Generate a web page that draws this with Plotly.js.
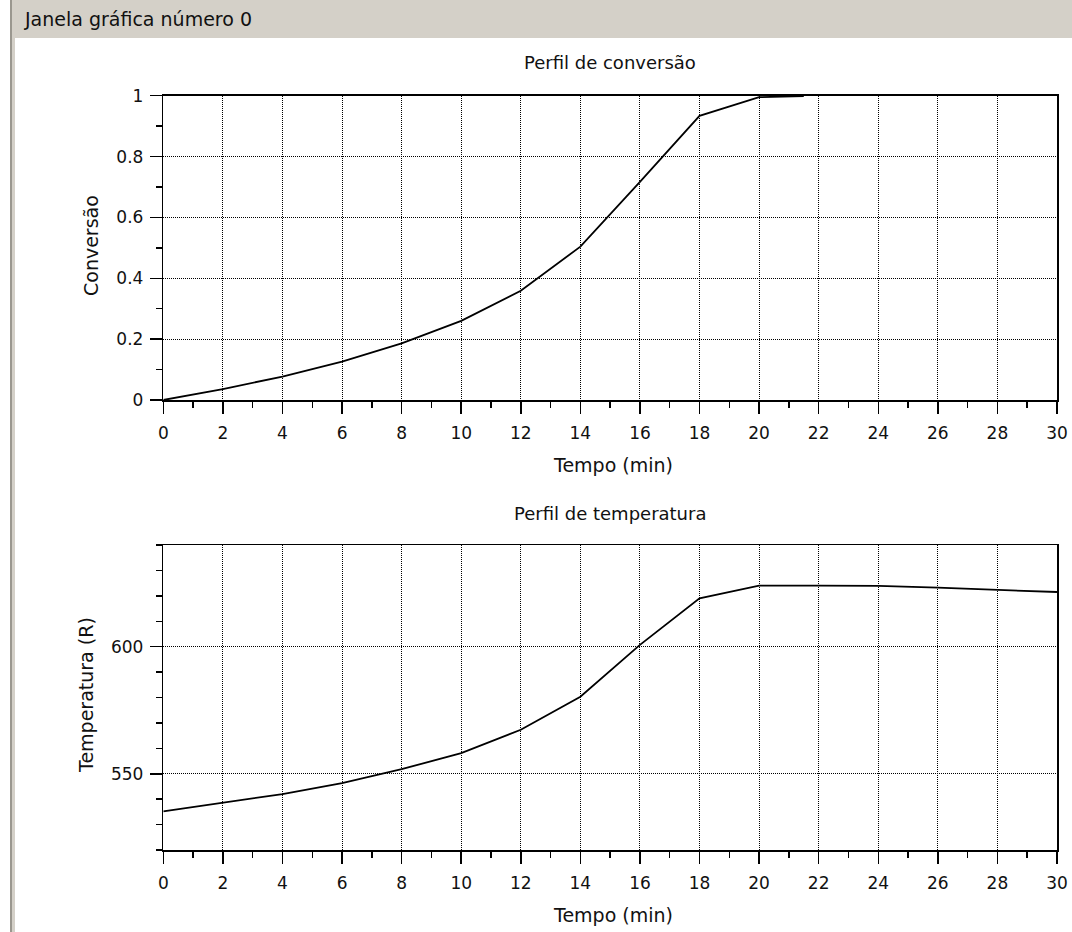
<!DOCTYPE html>
<html>
<head>
<meta charset="utf-8">
<script src="https://cdn.plot.ly/plotly-3.0.1.min.js"></script>
<style>
html,body{margin:0;padding:0;background:#fff;}
#chart{width:1072px;height:932px;}
</style>
</head>
<body>
<div id="chart"></div>
<script>
// ---- data ----
const windowTitle = "Janela gráfica número 0";
const convTitle = "Perfil de conversão";
const tempTitle = "Perfil de temperatura";
const xLabel = "Tempo (min)";
const convLabel = "Conversão";
const tempLabel = "Temperatura (R)";

const convTime = [0, 2, 4, 6, 8, 10, 12, 14, 16, 18, 20, 21.5];
const convValues = [0, 0.036, 0.077, 0.126, 0.186, 0.260, 0.359, 0.504, 0.717, 0.934, 0.995, 0.999];

const tempTime = [0, 2, 4, 6, 8, 10, 12, 14, 16, 18, 20, 22, 24, 26, 28, 30];
const tempValues = [535.2, 538.5, 542.0, 546.3, 551.8, 558.1, 567.3, 580.3, 600.7, 619.0, 624.0, 624.0, 623.9, 623.2, 622.4, 621.5];

const convTicks = [0, 0.2, 0.4, 0.6, 0.8, 1];
const convTickText = ["0", "0.2", "0.4", "0.6", "0.8", "1"];
const timeTicks = [0, 2, 4, 6, 8, 10, 12, 14, 16, 18, 20, 22, 24, 26, 28, 30];
const tempTicks = [550, 600];

// ---- layout helpers (pixel -> paper) ----
const W = 1072, H = 932;
const px = x => x / W;
const py = y => 1 - y / H;

const FONT = "DejaVu Sans, Liberation Sans, sans-serif";
const gridStyle = {showgrid: true, gridcolor: "#000", gridwidth: 1, griddash: "1px,1px"};
const lineStyle = {showline: true, linecolor: "#000", linewidth: 1.5, mirror: true, zeroline: false,
  ticks: "outside", tickcolor: "#000", tickwidth: 1.5, ticklen: 12,
  tickfont: {family: FONT, size: 17, color: "#111"}};

const xBase = Object.assign({}, gridStyle, lineStyle, {
  range: [0, 30], tickmode: "array", tickvals: timeTicks, ticktext: timeTicks.map(String),
  domain: [px(163.3), px(1057)], ticklabelstandoff: 5,
  minor: {dtick: 1, tick0: 0, ticks: "outside", ticklen: 6, tickcolor: "#000", tickwidth: 1.5, showgrid: false}
});

const traces = [
  {x: convTime, y: convValues, xaxis: "x", yaxis: "y", mode: "lines",
   line: {color: "#000", width: 1.8}, hoverinfo: "skip"},
  {x: tempTime, y: tempValues, xaxis: "x2", yaxis: "y2", mode: "lines",
   line: {color: "#000", width: 1.8}, hoverinfo: "skip"}
];

const layout = {
  width: W, height: H, margin: {l: 0, r: 0, t: 0, b: 0},
  paper_bgcolor: "#fff", plot_bgcolor: "#fff", showlegend: false,
  xaxis: Object.assign({}, xBase, {anchor: "y"}),
  yaxis: Object.assign({}, gridStyle, lineStyle, {
    anchor: "x", range: [0, 1], domain: [py(400), py(95.7)],
    tickmode: "array", tickvals: convTicks, ticktext: convTickText, ticklabelstandoff: 3,
    minor: {dtick: 0.1, tick0: 0, ticks: "outside", ticklen: 6, tickcolor: "#000", tickwidth: 1.5, showgrid: false}
  }),
  xaxis2: Object.assign({}, xBase, {anchor: "y2"}),
  yaxis2: Object.assign({}, gridStyle, lineStyle, {
    anchor: "x2", range: [520, 640], domain: [py(850), py(545)],
    tickmode: "array", tickvals: tempTicks, ticktext: tempTicks.map(String), ticklabelstandoff: 3,
    minor: {dtick: 10, tick0: 520, ticks: "outside", ticklen: 6, tickcolor: "#000", tickwidth: 1.5, showgrid: false}
  }),
  shapes: [
    {type: "rect", xref: "paper", yref: "paper", x0: px(15), x1: 1, y0: py(38), y1: 1,
     fillcolor: "#D4D0C8", line: {width: 0}, layer: "below"},
    {type: "rect", xref: "paper", yref: "paper", x0: px(10), x1: px(12), y0: 0, y1: 1,
     fillcolor: "#9A978F", line: {width: 0}, layer: "below"},
    {type: "rect", xref: "paper", yref: "paper", x0: px(12), x1: px(15), y0: 0, y1: 1,
     fillcolor: "#D4D0C8", line: {width: 0}, layer: "below"}
  ],
  annotations: [
    {text: windowTitle, xref: "paper", yref: "paper", x: px(22), y: py(19), xanchor: "left", yanchor: "middle",
     showarrow: false, font: {family: FONT, size: 19, color: "#111"}},
    {text: convTitle, xref: "paper", yref: "paper", x: px(610), y: py(62), xanchor: "center", yanchor: "middle",
     showarrow: false, font: {family: FONT, size: 18, color: "#111"}},
    {text: tempTitle, xref: "paper", yref: "paper", x: px(610), y: py(513), xanchor: "center", yanchor: "middle",
     showarrow: false, font: {family: FONT, size: 18, color: "#111"}},
    {text: xLabel, xref: "paper", yref: "paper", x: px(613), y: py(465), xanchor: "center", yanchor: "middle",
     showarrow: false, font: {family: FONT, size: 19, color: "#111"}},
    {text: xLabel, xref: "paper", yref: "paper", x: px(613), y: py(915), xanchor: "center", yanchor: "middle",
     showarrow: false, font: {family: FONT, size: 19, color: "#111"}},
    {text: convLabel, xref: "paper", yref: "paper", x: px(91), y: py(246), xanchor: "center", yanchor: "middle",
     textangle: -90, showarrow: false, font: {family: FONT, size: 19, color: "#111"}},
    {text: tempLabel, xref: "paper", yref: "paper", x: px(86), y: py(695), xanchor: "center", yanchor: "middle",
     textangle: -90, showarrow: false, font: {family: FONT, size: 19, color: "#111"}}
  ]
};

Plotly.newPlot("chart", traces, layout, {staticPlot: true, displayModeBar: false});
</script>
</body>
</html>
